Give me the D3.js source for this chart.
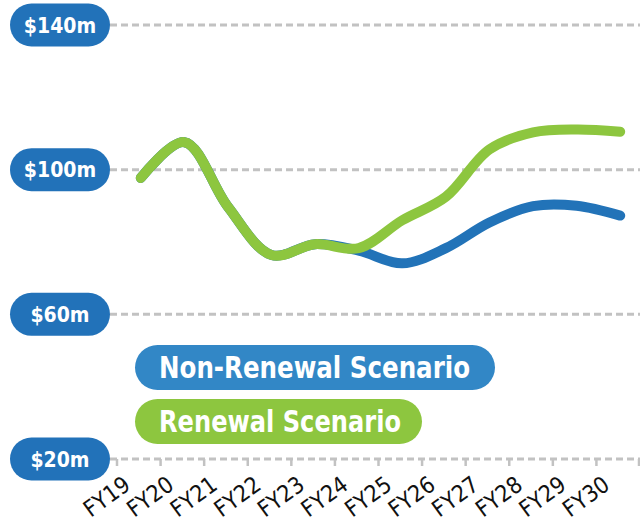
<!DOCTYPE html>
<html><head><meta charset="utf-8">
<script src="https://cdn.jsdelivr.net/npm/d3@7"></script>
<style>body{margin:0;background:#fff}svg{display:block}</style>
</head><body><svg id="c" width="640" height="525"></svg>
<script>
const categories = ["FY19","FY20","FY21","FY22","FY23","FY24","FY25","FY26","FY27","FY28","FY29","FY30"];
const nonRenewal = [97.7, 107.6, 89.7, 76.4, 79.4, 77.6, 74.1, 78.3, 85.4, 89.9, 90.0, 87.3];
const renewal    = [97.7, 107.6, 89.7, 76.4, 79.4, 78.3, 86.0, 92.5, 105.6, 110.3, 111.1, 110.5];
const yTicks = [20, 60, 100, 140];
const yTickLabels = ["$20m", "$60m", "$100m", "$140m"];
const seriesNames = ["Non-Renewal Scenario", "Renewal Scenario"];

const svg = d3.select("#c");
const x = d3.scaleBand().domain(categories).range([117, 640]);
const y = d3.scaleLinear().domain([20, 140]).range([459, 25]);
const font = "'Liberation Sans Narrow','DejaVu Sans Condensed','Roboto',sans-serif";

// gridlines
svg.append("g").selectAll("line").data(yTicks).join("line")
  .attr("x1", 110).attr("x2", 640)
  .attr("y1", d => y(d)).attr("y2", d => y(d))
  .attr("stroke", "#c2c2c2").attr("stroke-width", 3).attr("stroke-dasharray", "7,4");

// x ticks at band edges
const edges = categories.map(c => x(c)).concat([x.range()[1] - 1]);
svg.append("g").selectAll("line").data(edges).join("line")
  .attr("x1", d => d).attr("x2", d => d)
  .attr("y1", y(20)).attr("y2", y(20) + 7)
  .attr("stroke", "#c2c2c2").attr("stroke-width", 2.5);

// x labels
svg.append("g").selectAll("text").data(categories).join("text")
  .attr("transform", d => `translate(${x(d) + x.bandwidth()/2 - 7},${y(20) + 29}) rotate(-36)`)
  .attr("text-anchor", "end")
  .attr("font-family", font)
  .attr("font-size", 23).attr("fill", "#111")
  .text(d => d);

// y pills
const yg = svg.append("g").selectAll("g").data(yTicks).join("g")
  .attr("transform", d => `translate(0,${y(d)})`);
yg.append("rect").attr("x", 10).attr("y", -21.5).attr("width", 100).attr("height", 43)
  .attr("rx", 21.5).attr("fill", "#2272b9");
yg.append("text").attr("x", 60).attr("y", 7.5).attr("text-anchor", "middle")
  .attr("font-family", font)
  .attr("font-weight", "bold").attr("font-size", 21).attr("fill", "#fff")
  .text((d, i) => yTickLabels[i]);

// lines
const line = d3.line().x((d, i) => x(categories[i]) + x.bandwidth()/2 + 2).y(d => y(d)).curve(d3.curveCatmullRom);
svg.append("path").datum(nonRenewal).attr("d", line).attr("fill", "none")
  .attr("stroke", "#2273b8").attr("stroke-width", 10).attr("stroke-linecap", "round").attr("stroke-linejoin", "round");
svg.append("path").datum(renewal).attr("d", line).attr("fill", "none")
  .attr("stroke", "#8dc63f").attr("stroke-width", 10).attr("stroke-linecap", "round").attr("stroke-linejoin", "round");

// legend pills
const leg = [
  {name: seriesNames[0], color: "#3287c6", y: 345, w: 360, tl: 311},
  {name: seriesNames[1], color: "#8dc63f", y: 399, w: 287, tl: 242}
];
const lg = svg.append("g").selectAll("g").data(leg).join("g")
  .attr("transform", d => `translate(135,${d.y})`);
lg.append("rect").attr("width", d => d.w).attr("height", 45).attr("rx", 22.5).attr("fill", d => d.color);
lg.append("text").attr("x", 24).attr("y", 33)
  .attr("font-family", font)
  .attr("font-weight", "bold").attr("font-size", 30).attr("fill", "#fff")
  .attr("textLength", d => d.tl).attr("lengthAdjust", "spacingAndGlyphs")
  .text(d => d.name);
</script></body></html>
